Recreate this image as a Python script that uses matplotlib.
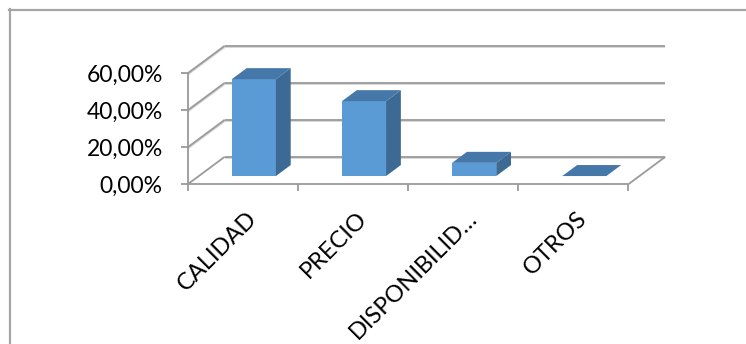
import matplotlib
matplotlib.use("Agg")
import matplotlib.pyplot as plt
import matplotlib.patheffects as pe
from matplotlib.patches import Polygon
from matplotlib.lines import Line2D
from matplotlib.transforms import offset_copy

# Data
categories = ["CALIDAD", "PRECIO", "DISPONIBILID\u2026", "OTROS"]
values = [52.38, 40.48, 7.14, 0.0]
y_ticks = [0, 20, 40, 60]
y_tick_labels = ["0,00%", "20,00%", "40,00%", "60,00%"]

W, H = 746, 344
fig = plt.figure(figsize=(W / 100, H / 100), dpi=100)
fig.patch.set_facecolor("white")

# Front plane of the plot area in pixels
x0_px, x1_px = 187.7, 628.3
y0_px, y60_px = 184.3, 73.3
ax = fig.add_axes([x0_px / W, 1 - y0_px / H, (x1_px - x0_px) / W, (y0_px - y60_px) / H])
ax.set_xlim(0, len(categories))
ax.set_ylim(0, 60)
ax.axis("off")

px_x = len(categories) / (x1_px - x0_px)   # data units per pixel (x)
px_y = 60 / (y0_px - y60_px)               # data units per pixel (y)
DX = 37.0 * px_x                           # full depth offset, x
DY = 27.5 * px_y                           # full depth offset, y

grid_col = "#9a9a9a"
grid_fx = [pe.SimpleLineShadow(offset=(0, -1), shadow_color="#d6d6d6", alpha=1), pe.Normal()]
n = len(categories)


def line(xs, ys, **kw):
    l = Line2D(xs, ys, color=grid_col, lw=1.3, clip_on=False, solid_capstyle="butt", **kw)
    ax.add_line(l)
    return l


# Back wall gridlines
for v in y_ticks:
    l = line([DX, n + DX], [v + DY, v + DY])
    l.set_path_effects(grid_fx)
# Side wall diagonals
for v in y_ticks[1:]:
    l = line([0, DX], [v, v + DY])
    l.set_path_effects(grid_fx)
# Floor edges
line([0, DX], [0, DY])
line([n, n + DX], [0, DY])
line([0, n], [0, 0])
# Vertical axis line and ticks
line([0, 0], [0, 60])
tick_len_x = 7 * px_x
for v in y_ticks:
    line([-tick_len_x, 0], [v, v])
tick_len_y = 7 * px_y
for i in range(n + 1):
    line([i, i], [0, -tick_len_y])

# Bars (oblique 3D boxes)
front_c, side_c, top_c = "#5b9bd5", "#3c6a94", "#4577a8"
d0, d1 = 0.3, 0.7
bw = 0.4
for i, v in enumerate(values):
    xl = i + 0.3 + d0 * DX
    xr = xl + bw
    yb = d0 * DY
    yt = v + d0 * DY
    ddx, ddy = (d1 - d0) * DX, (d1 - d0) * DY
    if v > 0:
        ax.add_patch(Polygon([(xl, yb), (xr, yb), (xr, yt), (xl, yt)], closed=True,
                             fc=front_c, ec="none", clip_on=False, zorder=3))
        ax.add_patch(Polygon([(xr, yb), (xr + ddx, yb + ddy), (xr + ddx, yt + ddy), (xr, yt)],
                             closed=True, fc=side_c, ec="none", clip_on=False, zorder=3))
    ax.add_patch(Polygon([(xl, yt), (xr, yt), (xr + ddx, yt + ddy), (xl + ddx, yt + ddy)],
                         closed=True, fc=top_c, ec="none", clip_on=False, zorder=3))

# Tick labels
font = "Lato"
for v, lab in zip(y_ticks, y_tick_labels):
    tr = offset_copy(ax.transData, fig=fig, x=-25, y=-2, units="dots")
    ax.text(0, v, lab, transform=tr, ha="right", va="center", fontsize=16.5,
            family=font, color="#000000")
for i, lab in enumerate(categories):
    tr = offset_copy(ax.transData, fig=fig, x=3, y=-23, units="dots")
    ax.text(i + 0.5, 0, lab, transform=tr, ha="right", va="top", rotation=45,
            rotation_mode="anchor", fontsize=17, family=font, color="#000000")

# Chart border
fig.add_artist(Line2D([9 / W, 1], [1 - 9.5 / H, 1 - 9.5 / H], color="#a6a6a6", lw=1.6,
                      transform=fig.transFigure))
fig.add_artist(Line2D([9.5 / W, 9.5 / W], [0, 1 - 9 / H], color="#a6a6a6", lw=1.6,
                      transform=fig.transFigure))

fig.savefig("out.png", dpi=100, facecolor="white")
